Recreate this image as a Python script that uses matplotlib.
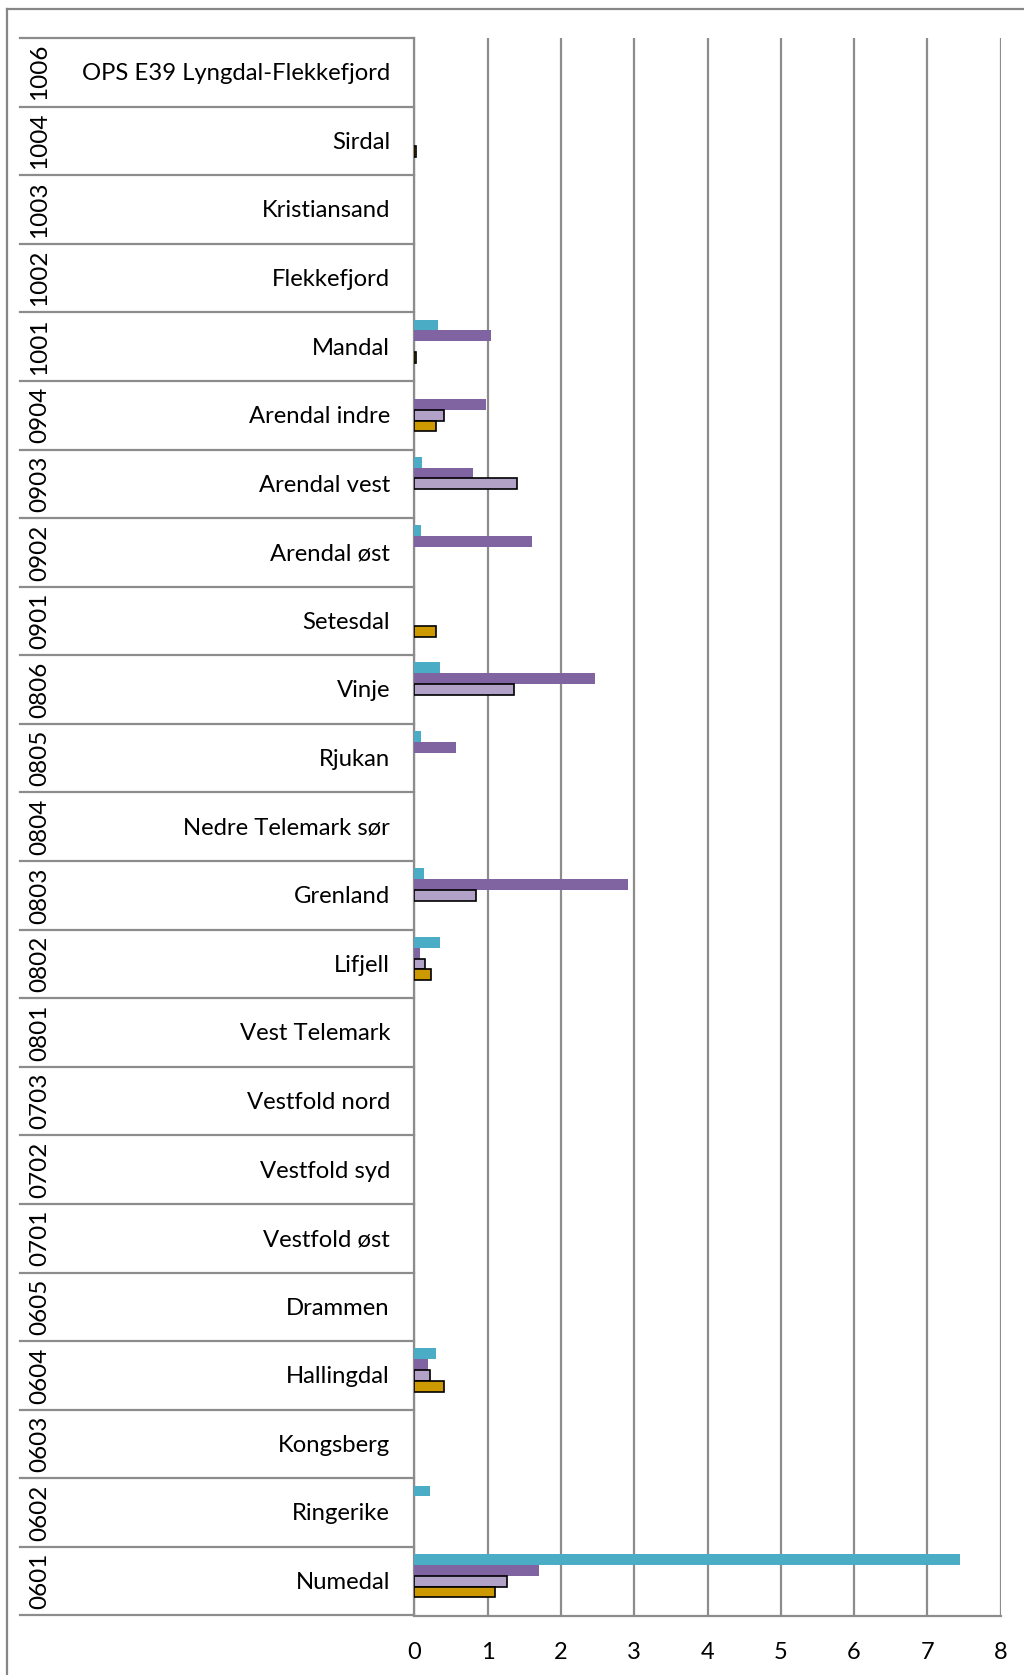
import matplotlib
matplotlib.use("Agg")
import matplotlib.pyplot as plt
import numpy as np
from matplotlib.lines import Line2D

# Categories listed top to bottom as they appear in the chart
codes = ["1006", "1004", "1003", "1002", "1001", "0904", "0903", "0902", "0901",
         "0806", "0805", "0804", "0803", "0802", "0801", "0703", "0702", "0701",
         "0605", "0604", "0603", "0602", "0601"]
names = ["OPS E39 Lyngdal-Flekkefjord", "Sirdal", "Kristiansand", "Flekkefjord",
         "Mandal", "Arendal indre", "Arendal vest", "Arendal øst", "Setesdal",
         "Vinje", "Rjukan", "Nedre Telemark sør", "Grenland", "Lifjell",
         "Vest Telemark", "Vestfold nord", "Vestfold syd", "Vestfold øst",
         "Drammen", "Hallingdal", "Kongsberg", "Ringerike", "Numedal"]

serie_1 = [0, 0, 0, 0, 0.33, 0, 0.11, 0.09, 0, 0.35, 0.09, 0, 0.13, 0.35,
           0, 0, 0, 0, 0, 0.29, 0, 0.21, 7.44]
serie_2 = [0, 0, 0, 0, 1.05, 0.98, 0.80, 1.61, 0, 2.46, 0.57, 0, 2.91, 0.08,
           0, 0, 0, 0, 0, 0.19, 0, 0, 1.70]
serie_3 = [0, 0, 0, 0, 0, 0.41, 1.40, 0, 0, 1.36, 0, 0, 0.84, 0.15,
           0, 0, 0, 0, 0, 0.21, 0, 0, 1.26]
serie_4 = [0, 0.02, 0, 0, 0.03, 0.29, 0, 0, 0.30, 0, 0, 0, 0, 0.23,
           0, 0, 0, 0, 0, 0.40, 0, 0, 1.10]

x_ticks = [0, 1, 2, 3, 4, 5, 6, 7, 8]

FONT = ["Lato", "DejaVu Sans"]
GRID = "#8c8c8c"
W, H = 1024, 1675


def draw_bars(ax, y, values, offset, height, color, edge):
    values = np.asarray(values, dtype=float)
    mask = values > 0
    ax.barh(y[mask] + offset, values[mask], height=height, color=color,
            edgecolor=edge if edge else color,
            linewidth=1.2 if edge else 0, zorder=3)


def main():
    plt.rcParams["font.family"] = FONT
    fig = plt.figure(figsize=(W / 100, H / 100), dpi=100)
    left, right, top, bottom = 414.3, 1000.7, 38.0, 1615.5
    ax = fig.add_axes([left / W, 1 - bottom / H, (right - left) / W, (bottom - top) / H])

    n = len(codes)
    y = np.arange(n)[::-1].astype(float)
    h = 0.158
    draw_bars(ax, y, serie_1, 2 * h, h, "#4BACC6", None)
    draw_bars(ax, y, serie_2, 1 * h, h, "#8064A2", None)
    draw_bars(ax, y, serie_3, 0.0, h, "#B3A2C7", "black")
    draw_bars(ax, y, serie_4, -1 * h, h, "#CC9900", "black")

    ax.set_xlim(0, 8)
    ax.set_ylim(-0.5, n - 0.5)
    ax.set_xticks(x_ticks)
    ax.set_xticklabels([str(t) for t in x_ticks], fontsize=17)
    ax.set_yticks([])
    ax.tick_params(axis="x", length=0, pad=19)
    ax.grid(axis="x", color=GRID, linewidth=1.6, zorder=0)
    ax.set_axisbelow(True)
    for side in ("top", "right"):
        ax.spines[side].set_visible(False)
    for side in ("left", "bottom"):
        ax.spines[side].set_color(GRID)
        ax.spines[side].set_linewidth(1.6)

    # category table on the left
    tr = ax.get_yaxis_transform()
    x0 = (20 - left) / (right - left)
    x_code = (40 - left) / (right - left)
    x_name = (390 - left) / (right - left)
    for b in np.arange(-0.5, n, 1.0):
        ax.plot([x0, 0], [b, b], transform=tr, color=GRID, lw=1.6,
                clip_on=False, zorder=1)
    for yi, code, name in zip(y, codes, names):
        ax.text(x_code, yi, code, transform=tr, rotation=90, ha="center",
                va="center", fontsize=17.5)
        ax.text(x_name, yi - 0.02, name, transform=tr, ha="right", va="center",
                fontsize=17.2)

    # chart area border (cut off at right and bottom)
    bx, by = 7 / W, 1 - 9 / H
    fig.add_artist(Line2D([bx, 1.01], [by, by], color="#868686", lw=1.6))
    fig.add_artist(Line2D([bx, bx], [by, -0.01], color="#868686", lw=1.6))

    fig.savefig("out.png", dpi=100)
    plt.close(fig)


if __name__ == "__main__":
    main()
